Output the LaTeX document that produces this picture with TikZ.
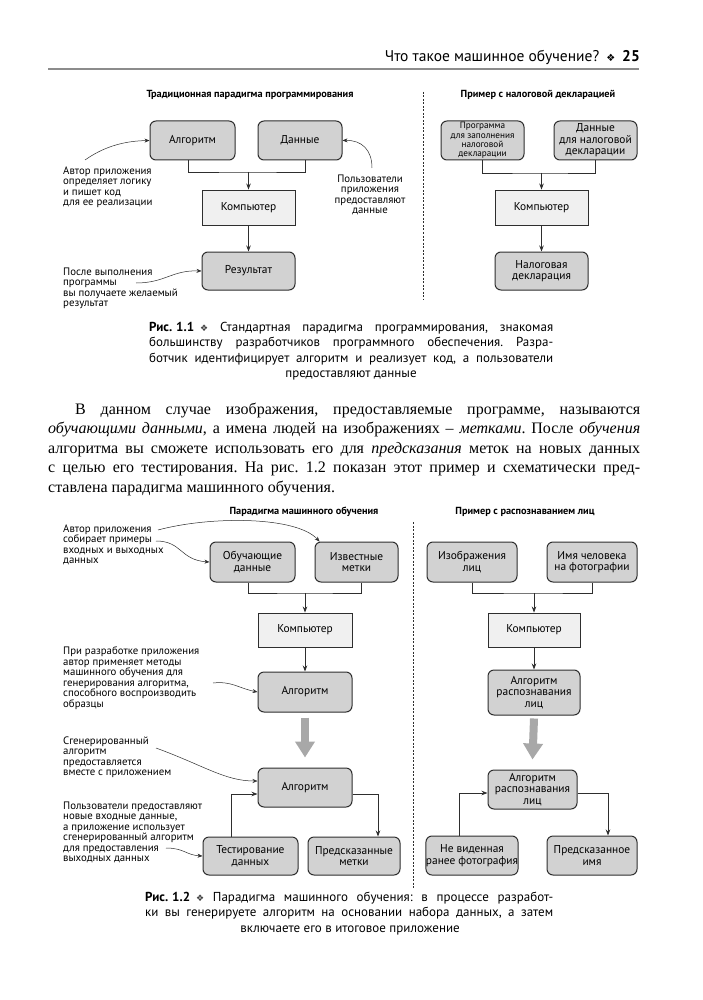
\documentclass[tikz,border=0pt]{standalone}
\usepackage{fontspec}
\setmainfont{Liberation Serif}
\newfontfamily\ptsans{PT Sans}
\newfontfamily\dejavu{DejaVu Sans}
\usetikzlibrary{arrows.meta,calc}
\frenchspacing
\definecolor{boxgray}{HTML}{D2D2D2}
\definecolor{lightbox}{HTML}{F0F0F0}
\definecolor{linec}{HTML}{2E2E2E}
\definecolor{bigarrow}{HTML}{A8A8A8}
\definecolor{rulec}{HTML}{8C8C8C}
\newcommand{\orn}{{\dejavu\fontsize{9}{9}\selectfont\color{black!75}❖}}
\tikzset{
  gbox/.style={draw=linec, line width=1pt, rounded corners=6pt, fill=boxgray,
    font=\ptsans\fontsize{11.4}{11.6}\selectfont, align=center, inner sep=0pt},
  lbox/.style={draw=linec, line width=0.9pt, fill=lightbox,
    font=\ptsans\fontsize{11.4}{11.6}\selectfont, align=center, inner sep=0pt},
  conn/.style={draw=linec, line width=0.8pt},
  arr/.style={conn, -{Stealth[length=6pt,width=4.5pt]}},
  annarr/.style={draw=linec, line width=0.5pt, -{Stealth[length=5pt,width=4pt]}},
  ann/.style={font=\ptsans\fontsize{10.8}{10.5}\selectfont, align=left, inner sep=0pt, anchor=north west},
  ttl/.style={font=\ptsans\bfseries\fontsize{10.3}{11}\selectfont, inner sep=0pt},
  sepline/.style={draw=linec, line width=0.8pt, dash pattern=on 2pt off 1.5pt},
  capt/.style={font=\ptsans\fontsize{13}{14}\selectfont, inner sep=0pt},
  bodyline/.style={font=\fontsize{16}{19}\selectfont, inner sep=0pt, anchor=base west},
  bigarr/.style={draw=bigarrow, line width=8pt, -{Triangle[length=16pt,width=19pt]}}
}
\begin{document}
\begin{tikzpicture}[x=1pt,y=-1pt]
\useasboundingbox[fill=white] (0,0) rectangle (702,1000);

% header
\node[font=\ptsans\fontsize{15.5}{16}\selectfont, inner sep=0pt, anchor=base east] (hdr) at (640,62)
  {Что такое машинное обучение?\hspace{7pt}{\dejavu\fontsize{10}{10}\selectfont ❖}\hspace{7pt}\textbf{25}};
\draw[rulec, line width=1.6pt] (48,69) -- (639,69);

% ---------- Fig 1.1 left
\node[ttl] (t1) at (250,95) {Традиционная парадигма программирования};
\node[gbox, minimum width=85pt, minimum height=39pt] (alg1) at (192.5,140.5) {Алгоритм};
\node[gbox, minimum width=84pt, minimum height=39pt] (dat1) at (300,140.5) {Данные};
\node[lbox, minimum width=93pt, minimum height=35pt] (comp1) at (248.5,207.5) {Компьютер};
\node[gbox, minimum width=93pt, minimum height=38pt] (res1) at (248.5,271) {Результат};
\coordinate (j1) at (248.5,172);
\draw[conn] ([xshift=-4pt]alg1.south) |- (j1) -| ([xshift=5pt]dat1.south);
\draw[arr] (j1) -- (comp1.north);
\draw[arr] (comp1.south) -- (res1.north);

\node[ann] (a1) at (63,166.5) {Автор приложения\\определяет логику\\и пишет код\\для ее реализации};
\node[ann, align=center, anchor=north] (a2) at (370,174.5) {Пользователи\\приложения\\предоставляют\\данные};
\node[ann] (a3) at (63,267.5) {После выполнения\\программы\\вы получаете желаемый\\результат};
\coordinate (c1s) at (85,160);
\draw[annarr] (c1s) .. controls (105,146) and (125,141) .. (alg1.west);
\coordinate (c2s) at (372,168);
\draw[annarr] (c2s) .. controls (372,150) and (362,140) .. (dat1.east);
\coordinate (c3s) at (136,283);
\draw[annarr] (c3s) .. controls (165,283) and (172,270) .. (res1.west);

\draw[sepline] (423,92) -- (423,300);

% ---------- Fig 1.1 right
\node[ttl] (t2) at (538,95) {Пример с налоговой декларацией};
\node[gbox, minimum width=83pt, minimum height=39pt, font=\ptsans\fontsize{9.2}{9.2}\selectfont] (tax1) at (482.5,140.5)
  {Программа\\для заполнения\\налоговой\\декларации};
\node[gbox, minimum width=83pt, minimum height=39pt] (tax2) at (595.5,140.5) {Данные\\для налоговой\\декларации};
\node[lbox, minimum width=93pt, minimum height=35pt] (comp2) at (541.5,207.5) {Компьютер};
\node[gbox, minimum width=93pt, minimum height=38pt] (decl) at (541.5,271) {Налоговая\\декларация};
\coordinate (j2) at (541.5,173);
\draw[conn] (tax1.south) |- (j2) -| (tax2.south);
\draw[arr] (j2) -- (comp2.north);
\draw[arr] (comp2.south) -- (decl.north);

% ---------- Caption 1.1
\node[capt, anchor=base west] (cp1a) at (149,331) {\makebox[404pt][s]{\textbf{Рис.\hspace{4pt}1.1}\hspace{6pt}\orn{} Стандартная парадигма программирования, знакомая}};
\node[capt, anchor=base west] (cp1b) at (149,346.5) {\makebox[404pt][s]{большинству разработчиков программного обеспечения. Разра-}};
\node[capt, anchor=base west] (cp1c) at (149,362) {\makebox[404pt][s]{ботчик идентифицирует алгоритм и реализует код, а пользователи}};
\node[capt, anchor=base] (cp1d) at (351,377.5) {предоставляют данные};

% ---------- Body
\node[bodyline] (b1) at (75,414) {\makebox[565pt][s]{В данном случае изображения, предоставляемые программе, называются}};
\node[bodyline] (b2) at (48,433.5) {\makebox[592pt][s]{\textit{обучающими данными}, а имена людей на изображениях – \textit{метками}. После \textit{обучения}}};
\node[bodyline] (b3) at (48,453) {\makebox[592pt][s]{алгоритма вы сможете использовать его для \textit{предсказания} меток на новых данных}};
\node[bodyline] (b4) at (48,472.5) {\makebox[592pt][s]{с целью его тестирования. На рис. 1.2 показан этот пример и схематически пред-}};
\node[bodyline] (b5) at (48,492) {ставлена парадигма машинного обучения.};

% ---------- Fig 1.2 left
\node[ttl] (t3) at (304,512) {Парадигма машинного обучения};
\node[gbox, minimum width=85pt, minimum height=40pt] (obd) at (252.5,562) {Обучающие\\данные};
\node[gbox, minimum width=83pt, minimum height=40pt] (izm) at (356.5,562) {Известные\\метки};
\node[lbox, minimum width=94pt, minimum height=34pt] (comp3) at (305,630) {Компьютер};
\node[gbox, minimum width=94pt, minimum height=40pt] (alg3) at (305,692) {Алгоритм};
\node[gbox, minimum width=94pt, minimum height=39pt] (alg4) at (305,787.5) {Алгоритм};
\node[gbox, minimum width=95pt, minimum height=38pt] (test) at (250.5,856) {Тестирование\\данных};
\node[gbox, minimum width=92pt, minimum height=38pt] (pred) at (354,856) {Предсказанные\\метки};
\coordinate (j3) at (305,593);
\draw[conn] ([xshift=-4pt]obd.south) |- (j3) -| ([xshift=5pt]izm.south);
\draw[arr] (j3) -- (comp3.north);
\draw[arr] (comp3.south) -- (alg3.north);
\draw[bigarr] ([yshift=-5pt]alg3.south) -- ([yshift=10pt]alg4.north);
\draw[arr] ([xshift=-19.5pt]test.north) |- ([yshift=-6.5pt]alg4.west);
\draw[arr] ([yshift=-6.5pt]alg4.east) -| ([xshift=24pt]pred.north);

\node[ann] (e1) at (63,524.5) {Автор приложения\\собирает примеры\\входных и выходных\\данных};
\node[ann] (e2) at (63,646.5) {При разработке приложения\\автор применяет методы\\машинного обучения для\\генерирования алгоритма,\\способного воспроизводить\\образцы};
\node[ann] (e3) at (63,736.5) {Сгенерированный\\алгоритм\\предоставляется\\вместе с приложением};
\node[ann] (e4) at (63,801.5) {Пользователи предоставляют\\новые входные данные,\\а приложение использует\\сгенерированный алгоритм\\для предоставления\\выходных данных};
\coordinate (d1s) at (158,530);
\draw[annarr] (d1s) .. controls (210,516) and (296,516) .. ([xshift=5pt]izm.north west);
\coordinate (d2s) at (156,541);
\draw[annarr] (d2s) .. controls (182,541) and (180,560) .. (obd.west);
\coordinate (d3s) at (213,683);
\draw[annarr] (d3s) .. controls (232,681) and (238,688) .. (alg3.west);
\coordinate (d4s) at (156,748);
\draw[annarr] (d4s) .. controls (205,766) and (225,781) .. ([yshift=6.5pt]alg4.west);
\coordinate (d5s) at (166,848);
\draw[annarr] (d5s) .. controls (184,848) and (186,855) .. (test.west);

\draw[sepline] (413,522) -- (413,888);

% ---------- Fig 1.2 right
\node[ttl] (t4) at (525,512) {Пример с распознаванием лиц};
\node[gbox, minimum width=90pt, minimum height=40pt] (img) at (472,562) {Изображения\\лиц};
\node[gbox, minimum width=90pt, minimum height=40pt] (name) at (592,562) {Имя человека\\на фотографии};
\node[lbox, minimum width=92pt, minimum height=34pt] (comp4) at (534,630) {Компьютер};
\node[gbox, minimum width=92pt, minimum height=45pt] (algf) at (534,692.5) {Алгоритм\\распознавания\\лиц};
\node[gbox, minimum width=89pt, minimum height=39pt] (algf2) at (532.5,789.5) {Алгоритм\\распознавания\\лиц};
\node[gbox, minimum width=90pt, minimum height=39pt] (unseen) at (472,855.5) {Не виденная\\ранее фотография};
\node[gbox, minimum width=90pt, minimum height=39pt] (pname) at (592,855.5) {Предсказанное\\имя};
\coordinate (j4) at (534,593);
\draw[conn] (img.south) |- (j4) -| (name.south);
\draw[arr] (j4) -- (comp4.north);
\draw[arr] (comp4.south) -- (algf.north);
\draw[bigarr] ([yshift=-3pt]algf.south) -- ([yshift=10pt]algf2.north);
\draw[arr] ([xshift=-13pt]unseen.north) |- ([yshift=-3.5pt]algf2.west);
\draw[arr] ([yshift=-3.5pt]algf2.east) -| ([xshift=16pt]pname.north);

% ---------- Caption 1.2
\node[capt, anchor=base west] (cp2a) at (145,901) {\makebox[408pt][s]{\textbf{Рис.\hspace{4pt}1.2}\hspace{6pt}\orn{} Парадигма машинного обучения: в процессе разработ-}};
\node[capt, anchor=base west] (cp2b) at (145,916.5) {\makebox[408pt][s]{ки вы генерируете алгоритм на основании набора данных, а затем}};
\node[capt, anchor=base] (cp2c) at (350,932) {включаете его в итоговое приложение};
\end{tikzpicture}
\end{document}
